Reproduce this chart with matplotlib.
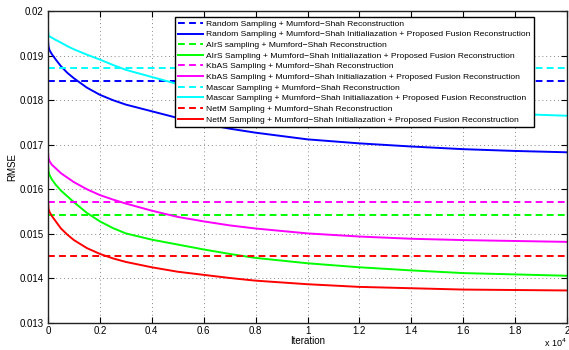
import numpy as np
import matplotlib
matplotlib.use('Agg')
import matplotlib.pyplot as plt
from matplotlib.ticker import FuncFormatter

# iterations where the curves were read
iterations = np.array([0, 20, 60, 150, 300, 500, 750, 1000, 1500, 2000, 2500, 3000, 4000,
                       5000, 6000, 7000, 8000, 10000, 12000, 14000, 16000, 18000, 20000])

random_fusion = [0.01935, 0.0192, 0.01912, 0.01903, 0.01891, 0.01876, 0.01861, 0.01849, 0.01828,
                 0.01812, 0.01800, 0.01790, 0.01775, 0.01760, 0.01747, 0.01736, 0.01727,
                 0.01712, 0.01703, 0.01696, 0.01690, 0.01686, 0.01683]
airs_fusion = [0.0166, 0.0164, 0.01632, 0.01622, 0.01610, 0.01597, 0.01584, 0.01571, 0.01547,
               0.01528, 0.01513, 0.01501, 0.01487, 0.01476, 0.01465, 0.01455, 0.01446,
               0.01434, 0.01425, 0.01418, 0.01412, 0.01409, 0.01406]
kbas_fusion = [0.01684, 0.01669, 0.01663, 0.01655, 0.01647, 0.01636, 0.01626, 0.01616, 0.01600,
               0.01587, 0.01577, 0.01568, 0.01552, 0.01538, 0.01528, 0.01519, 0.01512,
               0.01501, 0.01494, 0.01489, 0.01486, 0.01484, 0.01482]
mascar_fusion = [0.0196, 0.01945, 0.01943, 0.0194, 0.01935, 0.01929, 0.01921, 0.01914, 0.01902,
                 0.01891, 0.01879, 0.01868, 0.01852, 0.01836, 0.01824, 0.01815, 0.01807,
                 0.01795, 0.01786, 0.01779, 0.01773, 0.01769, 0.01765]
netm_fusion = [0.01575, 0.01556, 0.01549, 0.0154, 0.01528, 0.01512, 0.01498, 0.01486, 0.01468,
               0.01455, 0.01445, 0.01437, 0.01425, 0.01415, 0.01408, 0.01401, 0.01395,
               0.01387, 0.01381, 0.01378, 0.01375, 0.01374, 0.01373]

# Mumford-Shah only reconstruction (constant)
random_ms = 0.01842
airs_ms = 0.01542
kbas_ms = 0.01571
mascar_ms = 0.01871
netm_ms = 0.01451

labels = [
    'Random Sampling + Mumford\u2212Shah Reconstruction',
    'Random Sampling + Mumford\u2212Shah Initialiazation + Proposed Fusion Reconstruction',
    'AIrS sampling + Mumford\u2212Shah Reconstruction',
    'AIrS Sampling + Mumford\u2212Shah Initialiazation + Proposed Fusion Reconstruction',
    'KbAS Sampling + Mumford\u2212Shah Reconstruction',
    'KbAS Sampling + Mumford\u2212Shah Initialiazation + Proposed Fusion Reconstruction',
    'Mascar Sampling + Mumford\u2212Shah Reconstruction',
    'Mascar Sampling + Mumford\u2212Shah Initialiazation + Proposed Fusion Reconstruction',
    'NetM Sampling + Mumford\u2212Shah Reconstruction',
    'NetM Sampling + Mumford\u2212Shah Initialiazation + Proposed Fusion Reconstruction',
]

series = [
    (random_ms, random_fusion, '#0000ff'),
    (airs_ms, airs_fusion, '#00ff00'),
    (kbas_ms, kbas_fusion, '#ff00ff'),
    (mascar_ms, mascar_fusion, '#00ffff'),
    (netm_ms, netm_fusion, '#ff0000'),
]

plt.rcParams['font.family'] = ['Liberation Sans', 'DejaVu Sans']

fig = plt.figure(figsize=(5.69, 3.5), dpi=100)
ax = fig.add_axes([48 / 569, 27 / 350, 519 / 569, 312 / 350])

i = 0
for ms, fus, col in series:
    ax.axhline(ms, color=col, lw=1.4, ls=(0, (3.5, 2.2)), label=labels[i])
    ax.plot(iterations, fus, color=col, lw=1.4, label=labels[i + 1])
    i += 2

ax.set_xlim(0, 20000)
ax.set_ylim(0.013, 0.02)
ax.set_xticks(np.arange(0, 20001, 2000))
ax.set_yticks(np.arange(0.013, 0.02001, 0.001))
ax.xaxis.set_major_formatter(FuncFormatter(lambda v, p: '%g' % round(v / 1e4, 2)))
ax.yaxis.set_major_formatter(FuncFormatter(lambda v, p: '%g' % round(v, 4)))
ax.tick_params(direction='in', top=True, right=True, length=4, width=0.8, labelsize=7, pad=3)
ax.tick_params(axis='x', pad=2)
ax.grid(True, ls=(0, (1, 3)), color='#888888', lw=0.7)
for s in ax.spines.values():
    s.set_linewidth(1.0)
    s.set_color('#222222')

ax.set_xlabel('Iteration', fontsize=7, labelpad=0)
ax.set_ylabel('RMSE', fontsize=7, labelpad=2)
fig.text(567 / 569, 1 / 350, 'x 10$^4$', fontsize=6.5, ha='right', va='bottom')

leg = ax.legend(loc='upper right', bbox_to_anchor=(0.936, 0.981), fontsize=6.1,
                fancybox=False, framealpha=1, edgecolor='black', borderaxespad=0,
                handlelength=3.0, handletextpad=0.35, labelspacing=0.32, borderpad=0.35)
leg.get_frame().set_linewidth(1.0)

fig.savefig('out.png', dpi=100)
